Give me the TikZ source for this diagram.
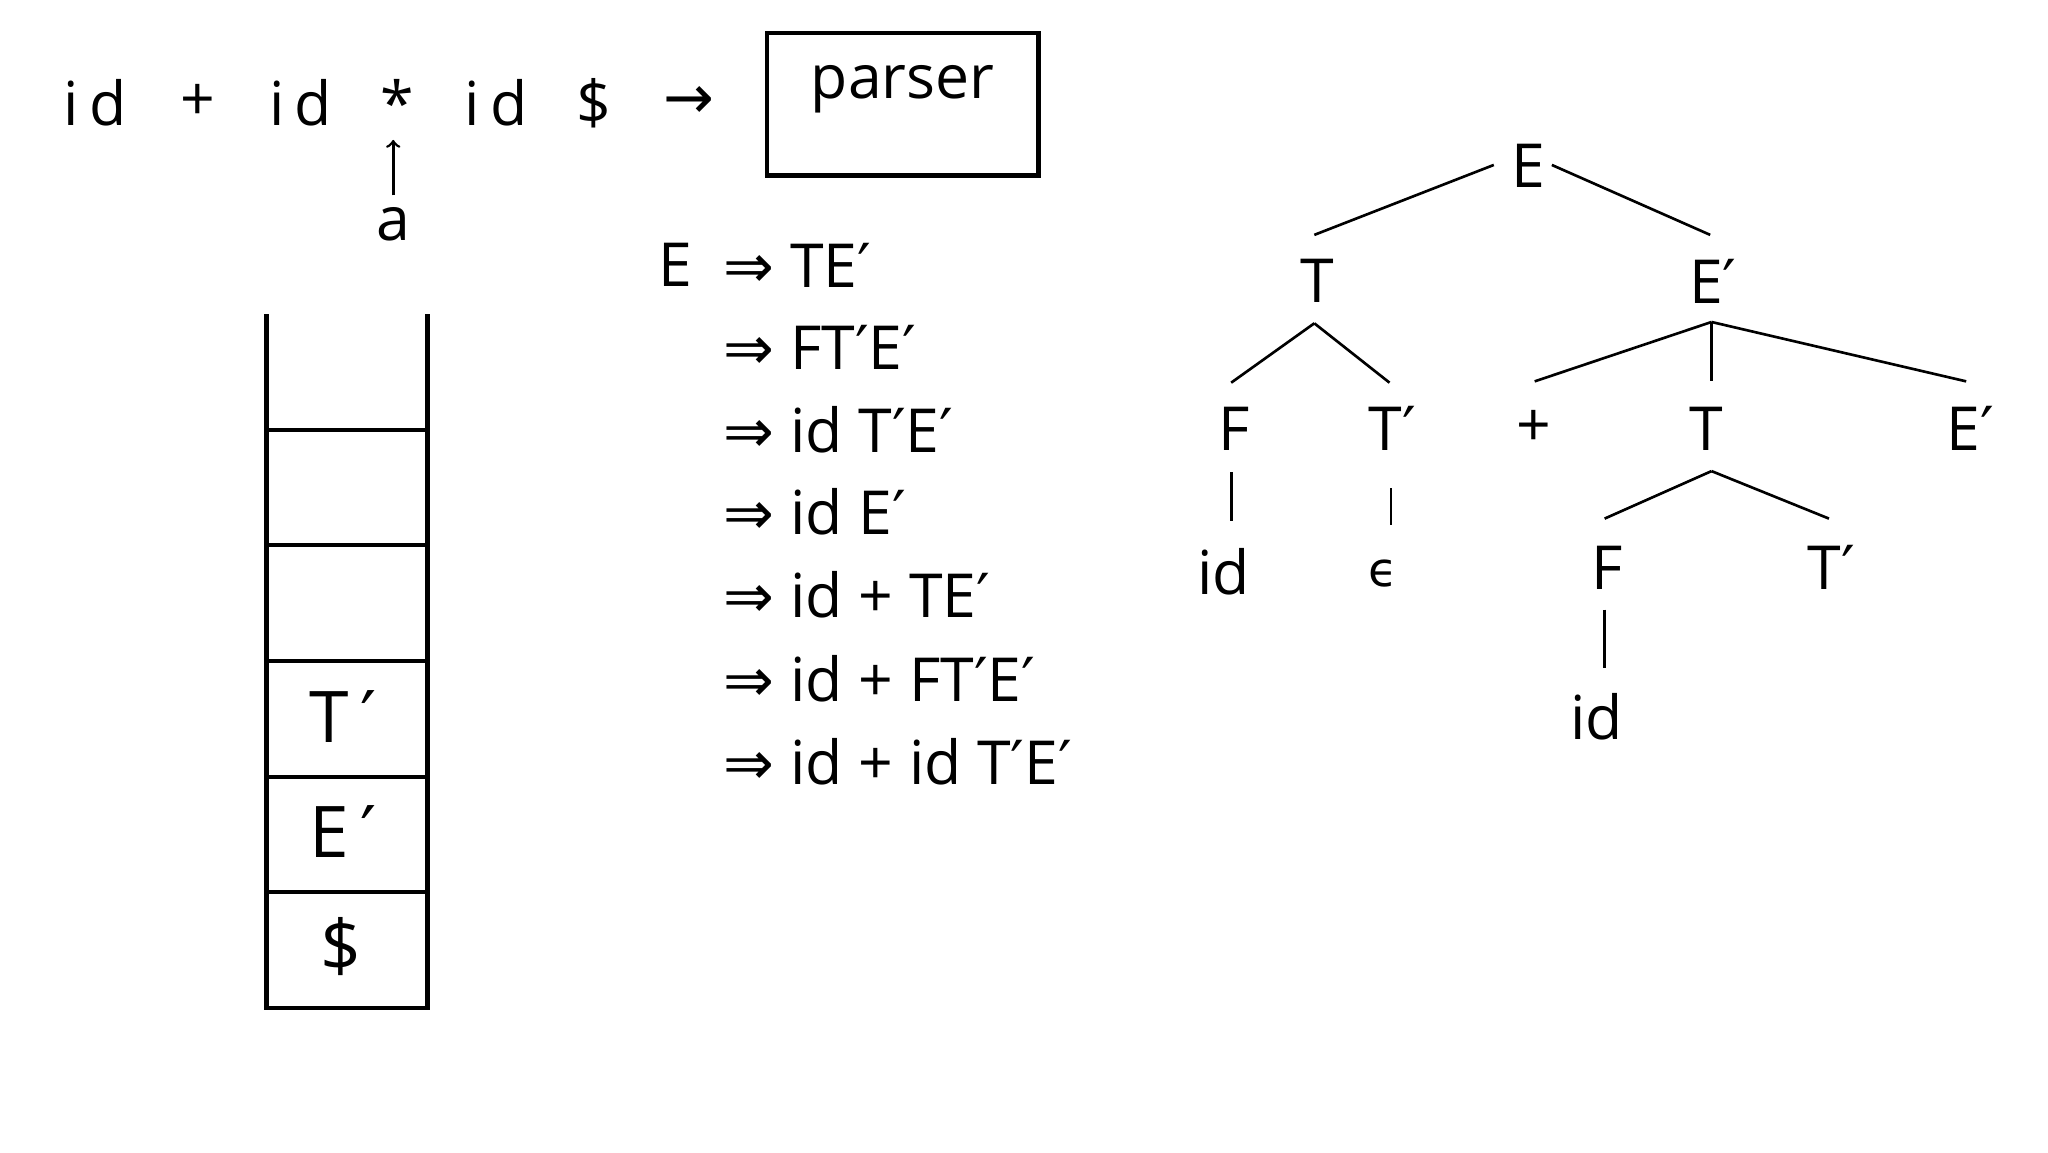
\documentclass[tikz,border=0pt]{standalone}
\usepackage{fontspec}
\setmainfont{Open Sans}
\newfontfamily\symf{DejaVu Sans}
\newcommand{\pp}{{\symf′}}
\newcommand{\dd}{{\symf⇒}}
\begin{document}
\begin{tikzpicture}[x=0.5pt,y=-0.5pt,
  txt/.style={inner sep=0pt,font=\fontsize{23}{26}\selectfont},
  big/.style={inner sep=0pt,font=\fontsize{27}{30}\selectfont},
  der/.style={inner sep=0pt,anchor=west,font=\fontsize{23}{26}\selectfont},
  ln/.style={line width=1pt},
  thick2/.style={line width=1.6pt}]
\useasboundingbox (0,0) rectangle (1552,873);
% input string
\node[txt] (i1) at (72,78) {i\,d};
\node[txt] (p1) at (150,78) {+};
\node[txt] (i2) at (228,78) {i\,d};
\node[txt] (st) at (301,78) {*};
\node[txt] (i3) at (376,78) {i\,d};
\node[txt] (dl) at (450,78) {\$};
\node[txt] (ar) at (522,78) {\symf→};
\node[draw,thick2,minimum width=103pt,minimum height=54pt,inner sep=0pt] (parser) at (684,79) {};
\node[txt] (pt) at (684,68) {parser};
\node[txt] (a) at (298,170) {a};
\coordinate (aa) at (298,148);
\coordinate (ab) at (298,106);
\draw[ln,->] (aa) -- (ab);
% stack
\coordinate (s1) at (202,238); \coordinate (s2) at (202,764);
\coordinate (s3) at (324,238); \coordinate (s4) at (324,764);
\draw[thick2] (s1) -- (s2) -- (s4) -- (s3);
\foreach \y in {326,413,501,589,676} \draw[thick2] (202,\y) -- (324,\y);
\node[big] (sT) at (260,543) {T\,\pp};
\node[big] (sE) at (260,630) {E\,\pp};
\node[big] (sD) at (258,717) {\$};
% derivation
\node[txt] (dE) at (512,201) {E};
\node[der] (d1) at (548,201) {\dd{} TE\pp};
\node[der] (d2) at (548,263) {\dd{} FT\pp E\pp};
\node[der] (d3) at (548,326) {\dd{} id T\pp E\pp};
\node[der] (d4) at (548,388) {\dd{} id E\pp};
\node[der] (d5) at (548,451) {\dd{} id + TE\pp};
\node[der] (d6) at (548,514) {\dd{} id + FT\pp E\pp};
\node[der] (d7) at (548,577) {\dd{} id + id T\pp E\pp};
% tree
\node[txt] (E) at (1158,126) {E};
\node[txt] (T) at (998,213) {T};
\node[txt] (Ep) at (1298,213) {E\pp};
\node[txt] (F) at (935,325) {F};
\node[txt] (Tp) at (1055,325) {T\pp};
\node[txt] (pl) at (1162,325) {+};
\node[txt] (T2) at (1293,325) {T};
\node[txt] (Ep2) at (1493,325) {E\pp};
\node[txt] (id1) at (927,433) {id};
\node[txt] (eps) at (1048,435) {\symf\fontsize{18}{20}\selectfont ϵ};
\node[txt] (F2) at (1218,430) {F};
\node[txt] (Tp2) at (1388,430) {T\pp};
\node[txt] (id2) at (1210,543) {id};
\draw[ln] (1132,125) -- (996,178);
\draw[ln] (1176,125) -- (1296,178);
\draw[ln] (996,245) -- (933,290);
\draw[ln] (996,245) -- (1053,290);
\draw[ln] (933,358) -- (933,395);
\draw[ln] (1054,370) -- (1054,398);
\draw[ln] (1297,244) -- (1163,289);
\draw[ln] (1297,244) -- (1297,289);
\draw[ln] (1297,244) -- (1490,289);
\draw[ln] (1297,357) -- (1216,393);
\draw[ln] (1297,357) -- (1386,393);
\draw[ln] (1216,462) -- (1216,506);
\end{tikzpicture}
\end{document}
